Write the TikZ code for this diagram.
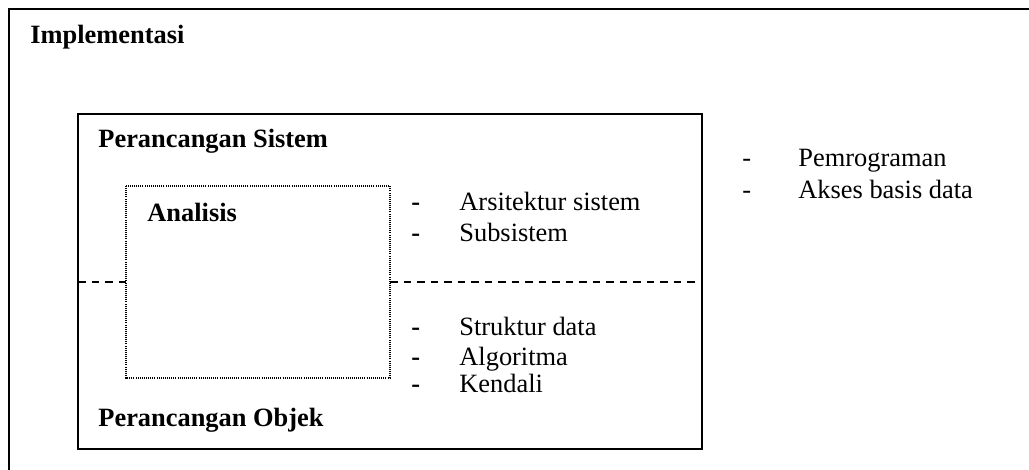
\documentclass[tikz,border=0pt]{standalone}
\usepackage{fontspec}
\setmainfont{Liberation Serif}
\begin{document}
\begin{tikzpicture}[x=0.5pt,y=-0.5pt,
  boxline/.style={draw=black, line width=1pt},
  dotbox/.style={draw=black, line width=0.6pt, dash pattern=on 0.5pt off 0.55pt},
  divider/.style={draw=black, line width=0.9pt, dash pattern=on 3.75pt off 3pt},
  lbl/.style={anchor=base west, inner sep=0pt, font=\fontsize{13.2}{15}\selectfont},
  hdr/.style={lbl, font=\fontsize{13.2}{15}\selectfont\bfseries}]
\clip (0,0) rectangle (1029,470);
\fill[white] (0,0) rectangle (1029,470);
% outer box (right and bottom edges lie outside the frame)
\draw[boxline] (9,9) rectangle (1060,500);
\node[hdr] (impl) at (30,44) {Implementasi};
% inner box
\draw[boxline] (78,114) rectangle (702,449);
\node[hdr] (sis) at (98,148) {Perancangan Sistem};
\node[hdr] (obj) at (98,427) {Perancangan Objek};
% dashed divider
\coordinate (dl1) at (78,282);
\coordinate (dl2) at (126,282);
\coordinate (dr1) at (390,282);
\coordinate (dr2) at (702,282);
\draw[divider] (dl1) -- (dl2);
\draw[divider] (dr1) -- (dr2);
% dotted analysis box
\draw[dotbox] (126,186) rectangle (390,378);
\node[hdr] (ana) at (147,222) {Analisis};
% bullets
\foreach \y/\t [count=\i] in {211/Arsitektur sistem, 242/Subsistem, 336/Struktur data, 365/Algoritma, 393/Kendali}{
  \node[lbl, font=\fontsize{13.2}{15}\selectfont\bfseries] (d\i) at (411,\y) {-};
  \node[lbl] (b\i) at (459,\y) {\t};
}
\foreach \y/\t [count=\i] in {167/Pemrograman, 199/Akses basis data}{
  \node[lbl] (rd\i) at (742,\y) {-};
  \node[lbl] (r\i) at (798,\y) {\t};
}
\end{tikzpicture}
\end{document}
